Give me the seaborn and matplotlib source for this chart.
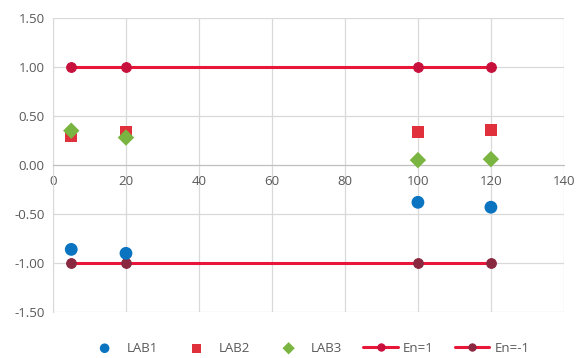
import numpy as np
import pandas as pd
import matplotlib
matplotlib.use("Agg")
import matplotlib.pyplot as plt
import seaborn as sns

x = [5, 20, 100, 120]
lab1 = [-0.86, -0.90, -0.38, -0.43]
lab2 = [0.30, 0.34, 0.34, 0.36]
lab3 = [0.35, 0.28, 0.05, 0.06]
en_pos = [1, 1, 1, 1]
en_neg = [-1, -1, -1, -1]

sns.set_style("white")
plt.rcParams['font.family'] = ['Open Sans', 'DejaVu Sans']

fig = plt.figure(figsize=(5.76, 3.58), dpi=100)
ax = fig.add_axes([0.092, 0.128, 0.887, 0.822])

grid_c = "#d9d9d9"
text_c = "#595959"

sns.lineplot(x=x, y=en_pos, ax=ax, color="#e8173a", lw=2.2, marker="o",
             markersize=7, markerfacecolor="#c8103c", markeredgecolor="#c8103c",
             label="En=1", zorder=3)
sns.lineplot(x=x, y=en_neg, ax=ax, color="#e8173a", lw=2.2, marker="o",
             markersize=7, markerfacecolor="#8a2840", markeredgecolor="#8a2840",
             label="En=-1", zorder=3)
sns.scatterplot(x=x, y=lab1, ax=ax, color="#0a74c0", marker="o", s=85,
                edgecolor="none", label="LAB1", zorder=4)
sns.scatterplot(x=x, y=lab2, ax=ax, color="#e0303c", marker="s", s=75,
                edgecolor="none", label="LAB2", zorder=4)
sns.scatterplot(x=x, y=lab3, ax=ax, color="#79b540", marker="D", s=70,
                edgecolor="none", label="LAB3", zorder=5)

ax.set_xlim(0, 140)
ax.set_ylim(-1.5, 1.5)
ax.set_xticks(np.arange(0, 141, 20))
ax.set_yticks(np.arange(-1.5, 1.51, 0.5))
ax.set_yticklabels([f"{v:.2f}" for v in np.arange(-1.5, 1.51, 0.5)])
ax.grid(True, color=grid_c, lw=0.9)
ax.set_axisbelow(True)

for s in ["top", "right"]:
    ax.spines[s].set_visible(False)
ax.spines["left"].set_color(grid_c)
ax.spines["bottom"].set_color("#bfbfbf")
ax.spines["bottom"].set_position(("data", 0))
ax.tick_params(axis="x", colors=text_c, labelsize=9.5, length=4, color="#bfbfbf")
ax.tick_params(axis="y", colors=text_c, labelsize=9.5, length=0, pad=6)

handles, labels = ax.get_legend_handles_labels()
order = [labels.index(l) for l in ["LAB1", "LAB2", "LAB3", "En=1", "En=-1"]]
leg = ax.legend([handles[i] for i in order], [labels[i] for i in order],
                loc="upper center", bbox_to_anchor=(0.5, -0.06), ncol=5,
                frameon=False, fontsize=9.5, handlelength=2.6, columnspacing=1.6,
                handletextpad=0.4, markerscale=0.75)
for t in leg.get_texts():
    t.set_color(text_c)

fig.savefig("out.png", dpi=100)
